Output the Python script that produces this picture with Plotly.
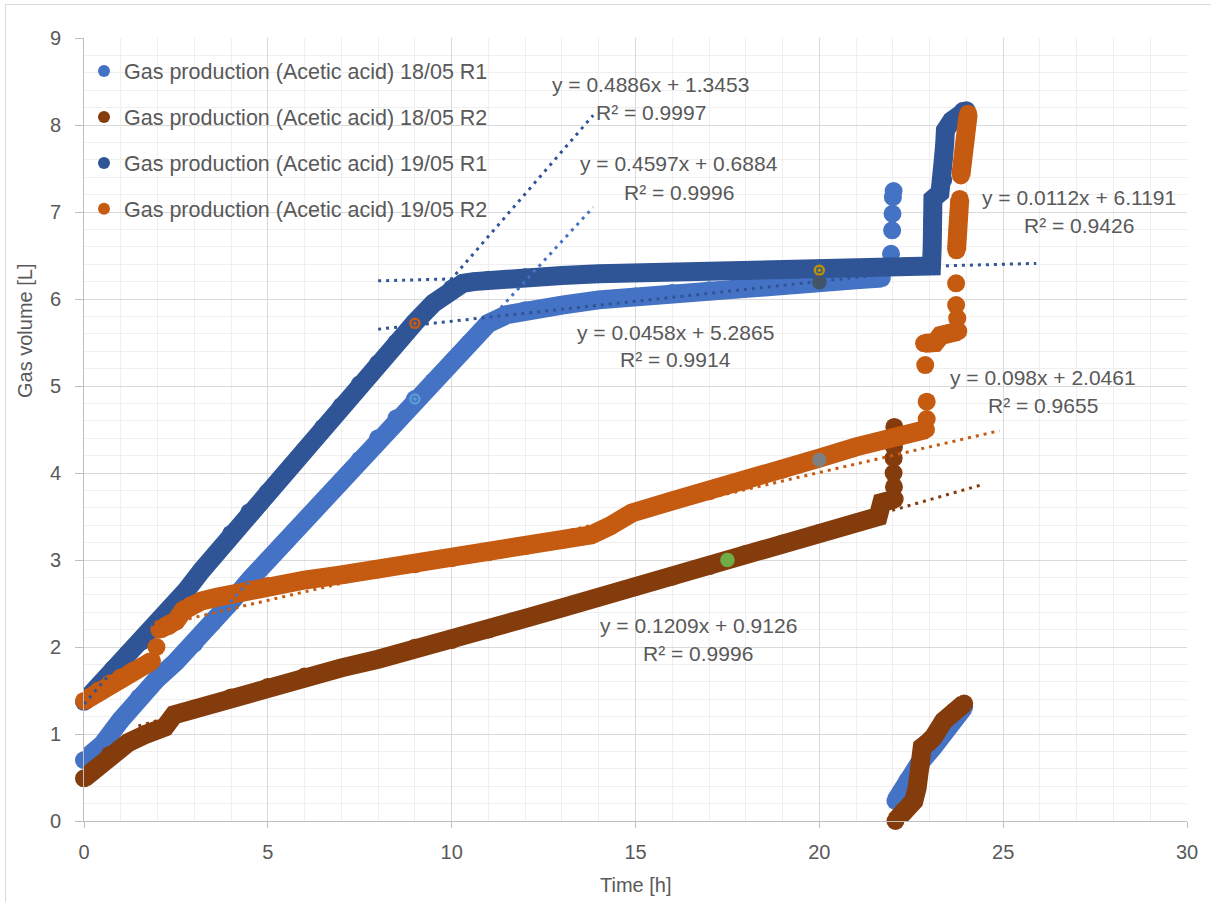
import plotly.graph_objects as go

# ---------------- data ----------------
series_names = [
    "Gas production (Acetic acid) 18/05 R1",
    "Gas production (Acetic acid) 18/05 R2",
    "Gas production (Acetic acid) 19/05 R1",
    "Gas production (Acetic acid) 19/05 R2",
]

# 18/05 R1 (light blue)
s1_main_x = [0, 0.5, 1, 1.5, 2, 2.5, 3, 3.5, 4, 4.5, 5, 5.5, 6, 6.5, 7, 7.5, 8, 8.5, 9, 9.5, 10, 10.5,
             11, 11.5, 12, 13, 14, 15, 16, 17, 18, 19, 20, 21, 21.7]
s1_main_y = [0.70, 0.88, 1.16, 1.42, 1.64, 1.83, 2.04, 2.28, 2.52, 2.77, 3.00, 3.22, 3.45, 3.68, 3.90, 4.15,
             4.40, 4.63, 4.85, 5.05, 5.27, 5.50, 5.72, 5.82, 5.87, 5.93, 5.99, 6.03, 6.07, 6.10, 6.14, 6.17,
             6.20, 6.22, 6.24]
s1_jump_x = [21.95, 21.98, 21.99, 22.00, 22.02]
s1_jump_y = [6.52, 6.79, 6.98, 7.17, 7.24]
s1_reset_x = [22.07, 22.39, 22.70, 23.10, 23.50, 23.94]
s1_reset_y = [0.23, 0.46, 0.65, 0.85, 1.08, 1.31]

# 18/05 R2 (brown)
s2_main_x = [0, 0.3, 0.7, 1.2, 1.7, 2.2, 2.45, 3, 4, 5, 6, 7, 8, 9, 10, 11, 12, 13, 14, 15, 16, 17, 17.5,
             18, 19, 20, 21, 21.6, 21.7, 22.05]
s2_main_y = [0.49, 0.60, 0.76, 0.90, 1.00, 1.08, 1.22, 1.29, 1.42, 1.54, 1.66, 1.76, 1.86, 1.99, 2.08, 2.20,
             2.33, 2.45, 2.57, 2.69, 2.81, 2.93, 3.00, 3.07, 3.19, 3.31, 3.43, 3.50, 3.66, 3.70]
s2_jump_x = [22.03, 22.02, 22.02, 22.03, 22.04]
s2_jump_y = [3.84, 4.00, 4.17, 4.30, 4.53]
s2_reset_x = [22.07, 22.30, 22.57, 22.66, 22.75, 22.80, 22.95, 23.10, 23.38, 23.70, 23.94]
s2_reset_y = [0.00, 0.12, 0.23, 0.38, 0.62, 0.85, 0.90, 0.96, 1.15, 1.27, 1.35]

# 19/05 R1 (dark blue)
s3_main_x = [0, 0.4, 0.8, 1.2, 1.6, 2.0, 2.4, 2.8, 3.2, 3.6, 4, 4.5, 5, 5.5, 6, 6.5, 7, 7.5, 8, 8.5, 9, 9.5,
             10, 10.3, 10.6, 11, 12, 13, 14, 15, 16, 17, 18, 19, 20, 21, 22, 23.05,
             23.07, 23.07, 23.09, 23.28, 23.37, 23.37, 23.41, 23.43, 23.60, 23.90, 24.00]
s3_main_y = [1.37, 1.55, 1.75, 1.93, 2.07, 2.26, 2.47, 2.66, 2.88, 3.08, 3.30, 3.55, 3.78, 4.01, 4.26, 4.52,
             4.77, 5.02, 5.26, 5.50, 5.73, 5.95, 6.12, 6.18, 6.20, 6.22, 6.25, 6.27, 6.29, 6.30, 6.31, 6.32,
             6.33, 6.34, 6.35, 6.36, 6.37, 6.38,
             6.60, 6.90, 7.15, 7.22, 7.37, 7.59, 7.78, 7.94, 8.05, 8.16, 8.17]

# 19/05 R2 (orange)
s4_start_x = [0, 0.2, 0.4, 0.7, 1.0, 1.3, 1.6, 1.85]
s4_start_y = [1.38, 1.43, 1.50, 1.58, 1.65, 1.72, 1.78, 1.84]
s4_dot_x = [1.97]
s4_dot_y = [2.00]
s4_main_x = [2.05, 2.3, 2.5, 2.7, 2.9, 3.2, 3.6, 4.0, 4.5, 5, 6, 7, 8, 9, 10, 11, 12, 13, 13.8, 14.3, 14.9,
             16, 17, 18, 19, 20, 21, 22, 22.9]
s4_main_y = [2.20, 2.24, 2.30, 2.42, 2.48, 2.53, 2.57, 2.61, 2.66, 2.70, 2.77, 2.83, 2.89, 2.95, 3.02, 3.09,
             3.16, 3.23, 3.29, 3.39, 3.54, 3.68, 3.79, 3.91, 4.04, 4.17, 4.30, 4.41, 4.50]
s4_jump_x = [22.92, 22.92, 22.88]
s4_jump_y = [4.62, 4.82, 5.24]
s4_step_x = [22.85, 23.00, 23.15, 23.30, 23.45, 23.60, 23.78]
s4_step_y = [5.49, 5.49, 5.50, 5.58, 5.60, 5.61, 5.63]
s4_jump2_x = [23.75, 23.72, 23.72]
s4_jump2_y = [5.78, 5.93, 6.18]
s4_band2_x = [23.73, 23.76, 23.79, 23.82]
s4_band2_y = [6.56, 6.80, 7.00, 7.15]
s4_band3_x = [23.85, 23.90, 23.95, 24.00, 24.05]
s4_band3_y = [7.42, 7.62, 7.80, 8.00, 8.13]

# single highlighted points
extra_x = [9.0, 9.0, 20.0, 20.0, 20.0, 17.5]
extra_y = [5.72, 4.85, 6.33, 6.19, 4.15, 3.00]

# trendlines  y = a x + b
tl_slope = [0.4886, 0.4597, 0.0112, 0.0458, 0.098, 0.1209]
tl_intercept = [1.3453, 0.6884, 6.1191, 5.2865, 2.0461, 0.9126]
tl_r2 = ["0.9997", "0.9996", "0.9426", "0.9914", "0.9655", "0.9996"]
tl_x0 = [0.0, 0.0, 8.0, 8.0, 2.0, 1.48]
tl_x1 = [13.85, 13.85, 25.9, 23.3, 24.9, 24.4]

x_ticks = [0, 5, 10, 15, 20, 25, 30]
y_ticks = [0, 1, 2, 3, 4, 5, 6, 7, 8, 9]

# ---------------- styles ----------------
C_LB = "#4472C4"
C_BR = "#843C0C"
C_DB = "#2F5597"
C_OR = "#C55A11"
series_colors = [C_LB, C_BR, C_DB, C_OR]
tl_colors = [C_DB, C_LB, C_DB, C_DB, C_OR, C_BR]
extra_colors = ["#C55A11", "#5B9BD5", "#BF9000", "#44546A", "#7F7F7F", "#70AD47"]
extra_symbols = ["circle-open-dot", "circle-open-dot", "circle-open-dot", "circle", "circle", "circle"]
extra_sizes = [9, 9, 9, 12, 12, 12]
# label positions (data coords) for equation and R² lines
eq_pos = [(15.42, 8.47), (16.18, 7.56), (27.06, 7.17), (16.10, 5.62), (26.08, 5.10), (16.70, 2.25)]
r2_pos = [(15.42, 8.14), (16.18, 7.22), (27.06, 6.84), (16.10, 5.30), (26.08, 4.78), (16.70, 1.93)]

FONT = "Liberation Sans, Arial, sans-serif"
TXT = "#595959"
BAND = 19
LABEL_SIZE = 21


def join(*segs):
    xs, ys = [], []
    for sx, sy in segs:
        if xs:
            xs.append(None)
            ys.append(None)
        xs.extend(sx)
        ys.extend(sy)
    return xs, ys


series_segments = [
    [(s1_main_x, s1_main_y)] + [([x], [y]) for x, y in zip(s1_jump_x, s1_jump_y)] + [(s1_reset_x, s1_reset_y)],
    [(s2_main_x, s2_main_y)] + [([x], [y]) for x, y in zip(s2_jump_x, s2_jump_y)] + [(s2_reset_x, s2_reset_y)],
    [(s3_main_x, s3_main_y)],
    [(s4_start_x, s4_start_y), (s4_dot_x, s4_dot_y), (s4_main_x, s4_main_y)]
    + [([x], [y]) for x, y in zip(s4_jump_x, s4_jump_y)]
    + [(s4_step_x, s4_step_y)]
    + [([x], [y]) for x, y in zip(s4_jump2_x, s4_jump2_y)]
    + [(s4_band2_x, s4_band2_y), (s4_band3_x, s4_band3_y)],
]

fig = go.Figure()

for name, color, segs in zip(series_names, series_colors, series_segments):
    xs, ys = join(*segs)
    fig.add_trace(go.Scatter(
        x=xs, y=ys, mode="lines+markers", name=name, showlegend=False,
        line=dict(color=color, width=BAND), marker=dict(color=color, size=BAND - 1),
        cliponaxis=False, hoverinfo="x+y",
    ))

for a, b, x0, x1, col in zip(tl_slope, tl_intercept, tl_x0, tl_x1, tl_colors):
    fig.add_trace(go.Scatter(
        x=[x0, x1], y=[a * x0 + b, a * x1 + b], mode="lines", showlegend=False,
        line=dict(color=col, width=3, dash="3px,5px"), hoverinfo="skip",
    ))

for x, y, col, sym, sz in zip(extra_x, extra_y, extra_colors, extra_symbols, extra_sizes):
    fig.add_trace(go.Scatter(
        x=[x], y=[y], mode="markers", showlegend=False, cliponaxis=False,
        marker=dict(color=col, symbol=sym, size=sz, line=dict(color=col, width=2.5)),
    ))

# legend-only entries
for i, (name, color) in enumerate(zip(series_names, series_colors)):
    fig.add_trace(go.Scatter(
        x=[None], y=[None], mode="markers", name=name, legendgroup=f"g{i}",
        marker=dict(color=color, size=14),
    ))

annotations = []
for a, b, r2, (ex, ey), (rx, ry) in zip(tl_slope, tl_intercept, tl_r2, eq_pos, r2_pos):
    annotations.append(dict(x=ex, y=ey, xref="x", yref="y", text=f"y = {a:g}x + {b:g}", showarrow=False,
                            font=dict(family=FONT, size=LABEL_SIZE, color=TXT), xanchor="center", yanchor="middle"))
    annotations.append(dict(x=rx, y=ry, xref="x", yref="y", text=f"R² = {r2}", showarrow=False,
                            font=dict(family=FONT, size=LABEL_SIZE, color=TXT), xanchor="center", yanchor="middle"))

annotations.append(dict(x=-0.0535, y=0.627, xref="paper", yref="paper", text="Gas volume [L]", textangle=-90,
                        showarrow=False, font=dict(family=FONT, size=20, color=TXT),
                        xanchor="center", yanchor="middle"))
annotations.append(dict(x=0.5, y=-0.0817, xref="paper", yref="paper", text="Time [h]",
                        showarrow=False, font=dict(family=FONT, size=20, color=TXT),
                        xanchor="center", yanchor="middle"))

axis_common = dict(
    showgrid=True, gridcolor="#D9D9D9", gridwidth=1, zeroline=False,
    showline=True, linecolor="#BFBFBF", linewidth=1, ticks="outside", tickcolor="#BFBFBF",
    tickfont=dict(family=FONT, size=20, color=TXT), mirror=False,
)

fig.update_layout(
    width=1211, height=902,
    margin=dict(l=84, r=24, t=38, b=81),
    paper_bgcolor="white", plot_bgcolor="white",
    font=dict(family=FONT, color=TXT),
    xaxis=dict(range=[0, 30], tickvals=x_ticks, ticklen=6, ticklabelstandoff=7,
               minor=dict(dtick=1, showgrid=True, gridcolor="#EFEFEF", ticks=""), **axis_common),
    yaxis=dict(range=[0, 9], tickvals=y_ticks, ticklen=8, ticklabelstandoff=10,
               minor=dict(dtick=0.2, showgrid=True, gridcolor="#EFEFEF", ticks=""), **axis_common),
    legend=dict(x=0.0, y=0.984, xanchor="left", yanchor="top", bgcolor="rgba(0,0,0,0)",
                font=dict(family=FONT, size=21.5, color=TXT), tracegroupgap=15, itemsizing="constant",
                itemwidth=30),
    annotations=annotations,
    shapes=[dict(type="rect", xref="paper", yref="paper", x0=-0.0712, y0=-0.2, x1=1.1, y1=1.0428,
                 line=dict(color="#D9D9D9", width=1), fillcolor="rgba(0,0,0,0)", layer="below")],
    hovermode="closest",
)

fig.write_html("out.html")
